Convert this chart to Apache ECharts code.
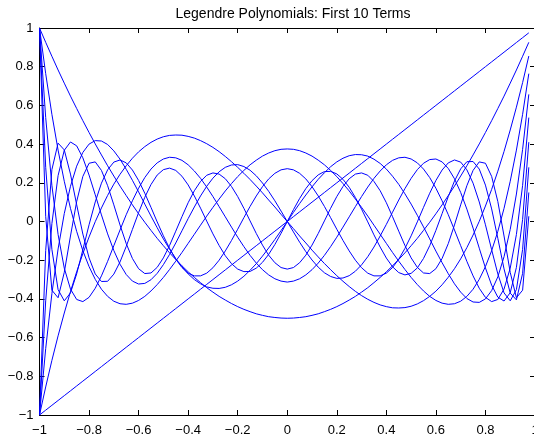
<!DOCTYPE html>
<html>
<head>
<meta charset="utf-8">
<script src="https://cdn.jsdelivr.net/npm/echarts@6/dist/echarts.min.js"></script>
<style>html,body{margin:0;padding:0;background:#fff;}#c{width:534px;height:445px;}</style>
</head>
<body>
<div id="c"></div>
<script>
const titleText = "Legendre Polynomials: First 10 Terms";
const xTicks = [-1, -0.8, -0.6, -0.4, -0.2, 0, 0.2, 0.4, 0.6, 0.8, 1];
const yTicks = [-1, -0.8, -0.6, -0.4, -0.2, 0, 0.2, 0.4, 0.6, 0.8, 1];
const xs = [-1,-0.975,-0.95,-0.925,-0.9,-0.875,-0.85,-0.825,-0.8,-0.775,-0.75,-0.725,-0.7,-0.675,-0.65,-0.625,-0.6,-0.575,-0.55,-0.525,-0.5,-0.475,-0.45,-0.425,-0.4,-0.375,-0.35,-0.325,-0.3,-0.275,-0.25,-0.225,-0.2,-0.175,-0.15,-0.125,-0.1,-0.075,-0.05,-0.025,
0,0.025,0.05,0.075,0.1,0.125,0.15,0.175,0.2,0.225,0.25,0.275,0.3,0.325,0.35,0.375,0.4,0.425,0.45,0.475,0.5,0.525,0.55,0.575,0.6,0.625,0.65,0.675,0.7,0.725,0.75,0.775,0.8,0.825,0.85,0.875,0.9,0.925,0.95,0.975];
const P1 = [-1,-0.975,-0.95,-0.925,-0.9,-0.875,-0.85,-0.825,-0.8,-0.775,-0.75,-0.725,-0.7,-0.675,-0.65,-0.625,-0.6,-0.575,-0.55,-0.525,-0.5,-0.475,-0.45,-0.425,-0.4,-0.375,-0.35,-0.325,-0.3,-0.275,-0.25,-0.225,-0.2,-0.175,-0.15,-0.125,-0.1,-0.075,-0.05,-0.025,
0,0.025,0.05,0.075,0.1,0.125,0.15,0.175,0.2,0.225,0.25,0.275,0.3,0.325,0.35,0.375,0.4,0.425,0.45,0.475,0.5,0.525,0.55,0.575,0.6,0.625,0.65,0.675,0.7,0.725,0.75,0.775,0.8,0.825,0.85,0.875,0.9,0.925,0.95,0.975];
const P2 = [1,0.926,0.854,0.783,0.715,0.648,0.584,0.521,0.46,0.401,0.344,0.288,0.235,0.183,0.134,0.086,0.04,-0.004,-0.046,-0.087,-0.125,-0.162,-0.196,-0.229,-0.26,-0.289,-0.316,-0.342,-0.365,-0.387,-0.406,-0.424,-0.44,-0.454,-0.466,-0.477,-0.485,-0.492,-0.496,-0.499,
-0.5,-0.499,-0.496,-0.492,-0.485,-0.477,-0.466,-0.454,-0.44,-0.424,-0.406,-0.387,-0.365,-0.342,-0.316,-0.289,-0.26,-0.229,-0.196,-0.162,-0.125,-0.087,-0.046,-0.004,0.04,0.086,0.134,0.183,0.235,0.288,0.344,0.401,0.46,0.521,0.584,0.648,0.715,0.783,0.854,0.926];
const P3 = [-1,-0.855,-0.718,-0.591,-0.473,-0.362,-0.26,-0.166,-0.08,-0.001,0.07,0.135,0.193,0.244,0.288,0.327,0.36,0.387,0.409,0.426,0.438,0.445,0.447,0.446,0.44,0.431,0.418,0.402,0.383,0.361,0.336,0.309,0.28,0.249,0.217,0.183,0.148,0.111,0.075,0.037,
0,-0.037,-0.075,-0.111,-0.148,-0.183,-0.217,-0.249,-0.28,-0.309,-0.336,-0.361,-0.383,-0.402,-0.418,-0.431,-0.44,-0.446,-0.447,-0.445,-0.438,-0.426,-0.409,-0.387,-0.36,-0.327,-0.288,-0.244,-0.193,-0.135,-0.07,0.001,0.08,0.166,0.26,0.362,0.473,0.591,0.718,0.855];
const P4 = [1,0.764,0.554,0.369,0.208,0.068,-0.051,-0.151,-0.233,-0.299,-0.35,-0.387,-0.412,-0.425,-0.428,-0.422,-0.408,-0.387,-0.359,-0.326,-0.289,-0.248,-0.205,-0.16,-0.113,-0.066,-0.019,0.028,0.073,0.116,0.158,0.196,0.232,0.264,0.293,0.317,0.338,0.354,0.366,0.373,
0.375,0.373,0.366,0.354,0.338,0.317,0.293,0.264,0.232,0.196,0.158,0.116,0.073,0.028,-0.019,-0.066,-0.113,-0.16,-0.205,-0.248,-0.289,-0.326,-0.359,-0.387,-0.408,-0.422,-0.428,-0.425,-0.412,-0.387,-0.35,-0.299,-0.233,-0.151,-0.051,0.068,0.208,0.369,0.554,0.764];
const P5 = [-1,-0.657,-0.373,-0.142,0.041,0.182,0.286,0.357,0.4,0.418,0.416,0.398,0.365,0.322,0.27,0.213,0.153,0.09,0.028,-0.032,-0.09,-0.143,-0.192,-0.234,-0.271,-0.3,-0.322,-0.338,-0.345,-0.346,-0.34,-0.327,-0.308,-0.283,-0.252,-0.218,-0.179,-0.137,-0.093,-0.047,
0,0.047,0.093,0.137,0.179,0.218,0.252,0.283,0.308,0.327,0.34,0.346,0.345,0.338,0.322,0.3,0.271,0.234,0.192,0.143,0.09,0.032,-0.028,-0.09,-0.153,-0.213,-0.27,-0.322,-0.365,-0.398,-0.416,-0.418,-0.4,-0.357,-0.286,-0.182,-0.041,0.142,0.373,0.657];
const P6 = [1,0.537,0.187,-0.067,-0.241,-0.349,-0.403,-0.414,-0.392,-0.345,-0.281,-0.206,-0.125,-0.044,0.035,0.107,0.172,0.227,0.271,0.303,0.323,0.332,0.329,0.316,0.293,0.261,0.223,0.178,0.129,0.077,0.024,-0.029,-0.081,-0.13,-0.175,-0.215,-0.249,-0.276,-0.296,-0.308,
-0.313,-0.308,-0.296,-0.276,-0.249,-0.215,-0.175,-0.13,-0.081,-0.029,0.024,0.077,0.129,0.178,0.223,0.261,0.293,0.316,0.329,0.332,0.323,0.303,0.271,0.227,0.172,0.107,0.035,-0.044,-0.125,-0.206,-0.281,-0.345,-0.392,-0.414,-0.403,-0.349,-0.241,-0.067,0.187,0.537];
const P7 = [-1,-0.41,-0.011,0.237,0.368,0.411,0.391,0.329,0.24,0.138,0.034,-0.064,-0.15,-0.221,-0.274,-0.308,-0.323,-0.32,-0.301,-0.268,-0.223,-0.17,-0.111,-0.048,0.015,0.075,0.132,0.182,0.224,0.257,0.28,0.292,0.294,0.284,0.265,0.236,0.199,0.156,0.107,0.054,
0,-0.054,-0.107,-0.156,-0.199,-0.236,-0.265,-0.284,-0.294,-0.292,-0.28,-0.257,-0.224,-0.182,-0.132,-0.075,-0.015,0.048,0.111,0.17,0.223,0.268,0.301,0.32,0.323,0.308,0.274,0.221,0.15,0.064,-0.034,-0.138,-0.24,-0.329,-0.391,-0.411,-0.368,-0.237,0.011,0.41];
const P8 = [1,0.28,-0.144,-0.352,-0.41,-0.369,-0.271,-0.146,-0.017,0.101,0.198,0.267,0.307,0.318,0.303,0.266,0.212,0.146,0.073,-0.002,-0.074,-0.139,-0.195,-0.238,-0.267,-0.281,-0.281,-0.267,-0.239,-0.2,-0.152,-0.098,-0.04,0.02,0.078,0.132,0.18,0.22,0.249,0.267,
0.273,0.267,0.249,0.22,0.18,0.132,0.078,0.02,-0.04,-0.098,-0.152,-0.2,-0.239,-0.267,-0.281,-0.281,-0.267,-0.238,-0.195,-0.139,-0.074,-0.002,0.073,0.146,0.212,0.266,0.303,0.318,0.307,0.267,0.198,0.101,-0.017,-0.146,-0.271,-0.369,-0.41,-0.352,-0.144,0.28];
const P9 = [-1,-0.15,0.268,0.405,0.37,0.245,0.087,-0.065,-0.188,-0.271,-0.31,-0.309,-0.272,-0.209,-0.129,-0.041,0.046,0.125,0.191,0.24,0.268,0.276,0.264,0.234,0.189,0.132,0.069,0.002,-0.064,-0.124,-0.177,-0.218,-0.246,-0.259,-0.258,-0.241,-0.211,-0.17,-0.119,-0.061,
0,0.061,0.119,0.17,0.211,0.241,0.258,0.259,0.246,0.218,0.177,0.124,0.064,-0.002,-0.069,-0.132,-0.189,-0.234,-0.264,-0.276,-0.268,-0.24,-0.191,-0.125,-0.046,0.041,0.129,0.209,0.272,0.309,0.31,0.271,0.188,0.065,-0.087,-0.245,-0.37,-0.405,-0.268,0.15];
const P10 = [1,0.027,-0.355,-0.394,-0.263,-0.075,0.103,0.233,0.301,0.308,0.264,0.185,0.086,-0.018,-0.114,-0.191,-0.244,-0.269,-0.266,-0.237,-0.188,-0.124,-0.05,0.025,0.097,0.159,0.207,0.239,0.251,0.245,0.221,0.181,0.129,0.068,0.003,-0.062,-0.122,-0.174,-0.213,-0.238,
-0.246,-0.238,-0.213,-0.174,-0.122,-0.062,0.003,0.068,0.129,0.181,0.221,0.245,0.251,0.239,0.207,0.159,0.097,0.025,-0.05,-0.124,-0.188,-0.237,-0.266,-0.269,-0.244,-0.191,-0.114,-0.018,0.086,0.185,0.264,0.308,0.301,0.233,0.103,-0.075,-0.263,-0.394,-0.355,0.027];
const seriesValues = [P1, P2, P3, P4, P5, P6, P7, P8, P9, P10];

const FONT = "Liberation Sans, Arial, Helvetica, sans-serif";
const fmt = v => String(Math.round(v * 10) / 10).replace('-', '\u2212');
const chart = echarts.init(document.getElementById('c'), null, {renderer: 'canvas'});
const axisCommon = {
  min: -1, max: 1, interval: 0.2,
  axisLine: {show: true, onZero: false, lineStyle: {color: '#000', width: 1}},
  axisTick: {show: true, inside: true, length: 5, lineStyle: {color: '#000', width: 1}},
  splitLine: {show: false}
};
chart.setOption({
  animation: false,
  backgroundColor: '#fff',
  title: {
    text: titleText, left: 288, top: 2, textAlign: 'center',
    textStyle: {fontFamily: FONT, fontSize: 14, fontWeight: 'normal', color: '#000'}
  },
  grid: {left: 39.5, top: 28, width: 495.5, height: 387, containLabel: false, outerBoundsMode: 'none'},
  xAxis: [
    Object.assign({type: 'value', position: 'bottom',
      axisLabel: {show: true, margin: 9, fontFamily: FONT, fontSize: 13, color: '#000', formatter: fmt,
        customValues: xTicks}}, axisCommon),
    Object.assign({type: 'value', position: 'top', axisLabel: {show: false}}, axisCommon)
  ],
  yAxis: [
    Object.assign({type: 'value', position: 'left',
      axisLabel: {show: true, margin: 6, fontFamily: FONT, fontSize: 13, color: '#000', formatter: fmt,
        customValues: yTicks}}, axisCommon),
    Object.assign({type: 'value', position: 'right', axisLabel: {show: false}}, axisCommon)
  ],
  series: seriesValues.map((vals, i) => ({
    name: 'P' + (i + 1),
    type: 'line',
    xAxisIndex: 0, yAxisIndex: 0,
    data: xs.map((x, j) => [x, vals[j]]),
    symbol: 'none',
    silent: true,
    clip: false,
    lineStyle: {color: '#0000ff', width: 1},
    itemStyle: {color: '#0000ff'}
  }))
});
</script>
</body>
</html>
